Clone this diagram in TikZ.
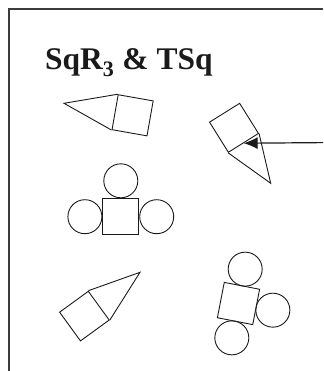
\documentclass[tikz,border=0pt]{standalone}
\usepackage{fontspec}
\setmainfont{Liberation Serif}
\usetikzlibrary{arrows.meta,positioning,calc}
\definecolor{ink}{HTML}{1A1A1A}
\tikzset{
  >=Latex,
  every node/.style={text=ink},
  sq/.style={draw=ink,line width=0.9pt,minimum size=35.5pt,inner sep=0pt},
  disc/.style={draw=ink,line width=0.9pt,circle,minimum size=34pt,inner sep=0pt},
  kite/.style={draw=ink,line width=0.9pt,line join=miter},
  frame/.style={draw=ink!85,line width=1.1pt},
  arrow/.style={-{Latex[length=14pt,width=12pt]},line width=1.2pt,draw=ink},
  heading/.style={font=\fontsize{31.5}{37}\selectfont\bfseries,inner sep=0pt},
}

\begin{document}
\begin{tikzpicture}[x=1pt,y=-1pt]
  \useasboundingbox (0,0) rectangle (323,371);
  % Frame
  \coordinate (fr) at (323,9);
  \coordinate (fo) at (9,9);
  \coordinate (fb) at (9,371);
  \draw[frame] (fr) -- (fo) -- (fb);
  \node[heading,anchor=base west] (ttl) at (45,70) {SqR\textsubscript{3} \& TSq};

  % Kites
  \node[sq,rotate=-10] (s1) at (132.6,115.3) {};
  \coordinate (t1) at (64,103.3);
  \draw[kite] (s1.north west) -- (t1) -- (s1.south west);

  \node[sq,rotate=32] (s2) at (234,127.8) {};
  \coordinate (t2) at (270.7,183.3);
  \draw[kite] (s2.south west) -- (t2) -- (s2.south east);

  \node[sq,rotate=36] (s4) at (84.4,316.1) {};
  \coordinate (t4) at (140,272.3);
  \draw[kite] (s4.north east) -- (t4) -- (s4.south east);

  % Pointer
  \coordinate (src) at (323,142.6);
  \draw[arrow] (src) -- (s2.south);

  % Square with three circles
  \node[sq,minimum size=36pt] (s3) at (120.8,216.7) {};
  \node[disc,above=0pt of s3] (c3n) {};
  \node[disc,left=0pt of s3] (c3w) {};
  \node[disc,right=0pt of s3] (c3e) {};

  \node[sq,minimum size=36pt,rotate=-11] (s5) at (238.5,303.5) {};
  \node[disc] (c5n) at ($(s5.center)!35pt!(s5.north)$) {};
  \node[disc] (c5e) at ($(s5.center)!35pt!(s5.east)$) {};
  \node[disc] (c5s) at ($(s5.center)!35pt!(s5.south)$) {};
\end{tikzpicture}
\end{document}
